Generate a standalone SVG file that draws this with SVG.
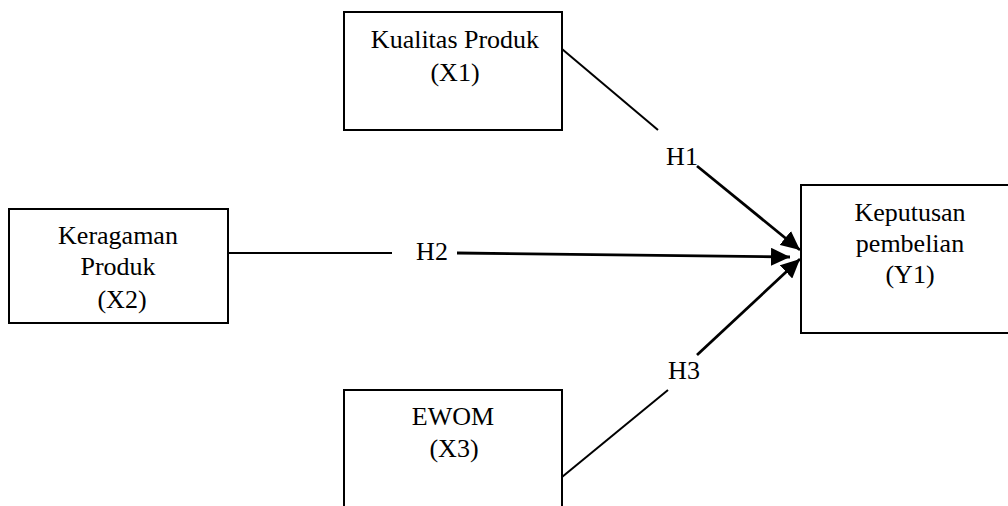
<svg xmlns="http://www.w3.org/2000/svg" width="1008" height="506" viewBox="0 0 1008 506">
  <style>
    .box { fill: #ffffff; stroke: #000000; stroke-width: 2; }
    .lbl { font-family: 'Liberation Serif', 'DejaVu Serif', serif; font-size: 26px; fill: #000000; text-anchor: middle; }
    .thin { stroke: #000000; stroke-width: 2; fill: none; }
    .thick { stroke: #000000; stroke-width: 2.8; fill: none; }
  </style>
  <defs>
    <marker id="arrow" markerUnits="userSpaceOnUse" markerWidth="22" markerHeight="18" refX="19" refY="9" orient="auto">
      <path d="M0,0 L19,9 L0,18 Z" fill="#000000"/>
    </marker>
  </defs>
  <rect width="1008" height="506" fill="#ffffff"/>

  <g id="node-x1">
    <rect class="box" x="344" y="12" width="218" height="118"/>
    <text class="lbl" font-family="Liberation Serif, serif" x="455" y="48">Kualitas Produk</text>
    <text class="lbl" font-family="Liberation Serif, serif" x="455" y="81">(X1)</text>
  </g>

  <g id="node-x2">
    <rect class="box" x="9" y="209" width="219" height="114"/>
    <text class="lbl" x="118" y="244">Keragaman</text>
    <text class="lbl" x="118" y="275">Produk</text>
    <text class="lbl" x="122" y="308">(X2)</text>
  </g>

  <g id="node-x3">
    <rect class="box" x="344" y="390" width="218" height="130"/>
    <text class="lbl" x="453" y="425">EWOM</text>
    <text class="lbl" x="454" y="457">(X3)</text>
  </g>

  <g id="node-y1">
    <rect class="box" x="801" y="185" width="215" height="148"/>
    <text class="lbl" x="910" y="221">Keputusan</text>
    <text class="lbl" x="910" y="252">pembelian</text>
    <text class="lbl" x="910" y="283">(Y1)</text>
  </g>

  <g id="connectors">
    <line class="thin" x1="562" y1="49" x2="658" y2="130"/>
    <text class="lbl" x="682" y="165">H1</text>
    <line class="thick" x1="697" y1="166" x2="800" y2="250" marker-end="url(#arrow)"/>

    <line class="thin" x1="228" y1="253" x2="392" y2="253"/>
    <text class="lbl" x="432" y="260">H2</text>
    <line class="thick" x1="457" y1="253" x2="790" y2="257" marker-end="url(#arrow)"/>

    <line class="thin" x1="562" y1="477" x2="668" y2="390"/>
    <text class="lbl" x="684" y="379">H3</text>
    <line class="thick" x1="697" y1="355" x2="800" y2="259" marker-end="url(#arrow)"/>
  </g>
</svg>
